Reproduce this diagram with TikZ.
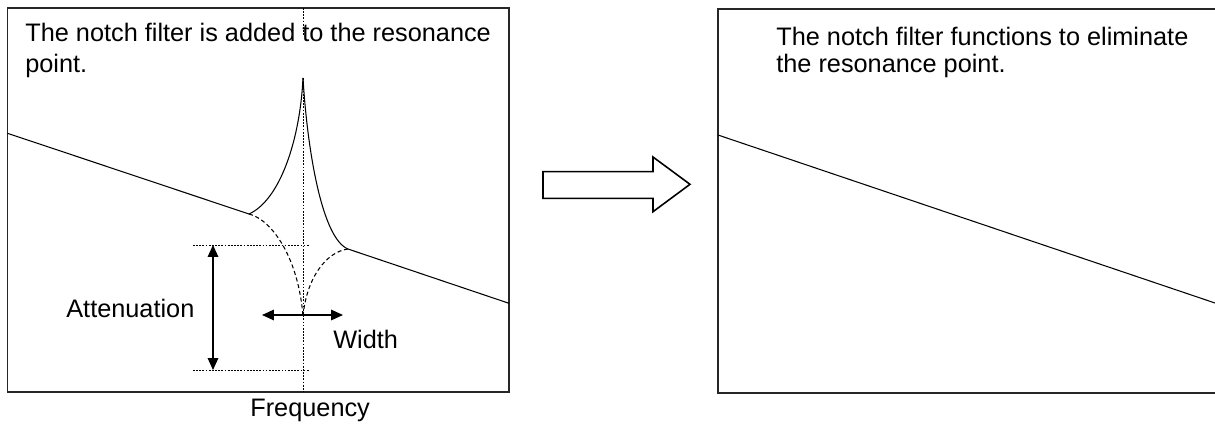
\documentclass[tikz,border=0pt]{standalone}
\usepackage{fontspec}
\setmainfont{Liberation Sans}
\usetikzlibrary{arrows.meta}

\begin{document}
\begin{tikzpicture}[x=0.02cm, y=-0.02cm,
    panel/.style={draw=black!85, line width=0.75pt},
    resp/.style={line width=0.6pt},
    guide/.style={line width=0.5pt, dash pattern=on 1pt off 0.8pt},
    notch/.style={line width=0.6pt, dash pattern=on 2.3pt off 1.6pt},
    dimarrow/.style={line width=0.8pt,
      {Triangle[length=6.8pt, width=6pt]}-{Triangle[length=6.8pt, width=6pt]}},
    lbl/.style={inner sep=0pt, anchor=base west, align=left,
      font=\fontsize{14.4}{17.3}\selectfont}]
  \useasboundingbox (0,0) rectangle (1215,427);

  % Before: frame and response
  \draw[panel] (7.5,8) rectangle (509,392);
  \draw[guide] (303,8) -- (303,36);
  \draw[guide] (303,78) -- (303,392);
  \draw[resp] (7.5,133.3) -- (249,214);
  \draw[resp] (348,249) -- (509,303.3);
  \draw[resp] (249,214) .. controls (280,200) and (300,140) .. (303,78);
  \draw[resp] (303,78) .. controls (307,145) and (321,238) .. (348,249);
  \draw[notch] (249,214) .. controls (273,220) and (299,260) .. (303,317);
  \draw[notch] (348,249) .. controls (325,252) and (306,280) .. (303,317);

  % Attenuation and width markers
  \draw[guide] (193,245) -- (310,245);
  \draw[guide] (193,370) -- (310,370);
  \coordinate (attTop) at (213,245);
  \coordinate (attBot) at (213,370);
  \coordinate (widL) at (262,315);
  \coordinate (widR) at (343,315);
  \draw[dimarrow] (attTop) -- (attBot);
  \draw[dimarrow] (widL) -- (widR);

  % Labels (anchored on the last line)
  \node[lbl] (before) at (25,72)
    {The notch filter is added to the resonance\\point.};
  \node[lbl] (att) at (66,317) {Attenuation};
  \node[lbl] (wid) at (333,348) {Width};
  \node[lbl] (freq) at (250,416.7) {Frequency};

  % Block arrow
  \draw[line width=0.9pt, fill=white] (543,171.7) -- (653,171.7) -- (653,157)
    -- (690,184.3) -- (653,211.7) -- (653,198.3) -- (543,198.3) -- cycle;

  % After: frame and response
  \draw[panel] (718,9) rectangle (1222,393);
  \draw[resp] (718,135) -- (1215,303);
  \node[lbl, font=\fontsize{14.4}{15}\selectfont] (after) at (776,72)
    {The notch filter functions to eliminate\\the resonance point.};
\end{tikzpicture}
\end{document}
